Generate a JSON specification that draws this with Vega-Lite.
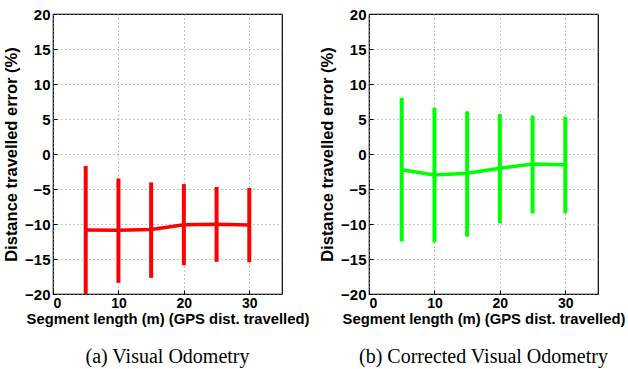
{
  "$schema": "https://vega.github.io/schema/vega-lite/v6.json",
  "background": "white",
  "padding": {"left": 2, "top": 6, "right": 0, "bottom": 0},
  "spacing": 87,
  "bounds": "flush",
  "datasets": {
    "vo": [
      {"x": 5, "mean": -10.86, "lo": -21, "hi": -1.7},
      {"x": 10, "mean": -10.9, "lo": -18.4, "hi": -3.5},
      {"x": 15, "mean": -10.8, "lo": -17.7, "hi": -4.05},
      {"x": 20, "mean": -10.1, "lo": -15.9, "hi": -4.3},
      {"x": 25, "mean": -10.05, "lo": -15.4, "hi": -4.7},
      {"x": 30, "mean": -10.14, "lo": -15.45, "hi": -4.85}
    ],
    "cvo": [
      {"x": 5, "mean": -2.25, "lo": -12.5, "hi": 8.05},
      {"x": 10, "mean": -3.0, "lo": -12.6, "hi": 6.6},
      {"x": 15, "mean": -2.76, "lo": -11.8, "hi": 6.1},
      {"x": 20, "mean": -2.05, "lo": -9.9, "hi": 5.7},
      {"x": 25, "mean": -1.43, "lo": -8.5, "hi": 5.5},
      {"x": 30, "mean": -1.55, "lo": -8.5, "hi": 5.33}
    ]
  },
  "config": {
    "view": {"stroke": "black", "strokeWidth": 1.2},
    "axis": {
      "labelFont": "Liberation Sans",
      "labelFontWeight": "bold",
      "labelColor": "black",
      "titleFont": "Liberation Sans",
      "titleFontWeight": "bold",
      "titleColor": "black",
      "domain": false,
      "tickColor": "black",
      "tickSize": -4,
      "tickWidth": 1,
      "gridColor": "#8c8c8c",
      "gridDash": [1, 3],
      "gridWidth": 1,
      "labelOverlap": false
    },
    "axisX": {"labelFontSize": 14, "titleFontSize": 14.8, "labelPadding": 6, "titlePadding": 1},
    "axisY": {"labelFontSize": 15, "titleFontSize": 16.5, "labelPadding": 7, "titlePadding": 5},
    "title": {
      "font": "Liberation Serif",
      "fontSize": 20,
      "fontWeight": "normal",
      "color": "black",
      "orient": "bottom",
      "offset": 21
    }
  },
  "hconcat": [
    {
      "width": 229,
      "height": 280,
      "title": "(a)  Visual Odometry",
      "data": {"name": "vo"},
      "encoding": {
        "x": {"field": "x", "type": "quantitative", "scale": {"domain": [0, 35]}, "axis": {"grid": true, "tickCount": 4, "values": [0, 10, 20, 30], "title": "Segment length (m) (GPS dist. travelled)"}},
        "y": {"field": "lo", "type": "quantitative", "scale": {"domain": [-20, 20]}, "axis": {"grid": true, "tickCount": 9, "values": [-20, -15, -10, -5, 0, 5, 10, 15, 20], "title": "Distance travelled error (%)"}}
      },
      "layer": [
        {
          "mark": {"type": "rule", "color": "#ff0000", "strokeWidth": 4, "clip": true},
          "encoding": {"y2": {"field": "hi"}}
        },
        {
          "mark": {"type": "line", "color": "#ff0000", "strokeWidth": 3.5, "clip": true},
          "encoding": {"y": {"field": "mean", "type": "quantitative"}}
        }
      ]
    },
    {
      "width": 229,
      "height": 280,
      "title": "(b)  Corrected Visual Odometry",
      "data": {"name": "cvo"},
      "encoding": {
        "x": {"field": "x", "type": "quantitative", "scale": {"domain": [0, 35]}, "axis": {"grid": true, "tickCount": 4, "values": [0, 10, 20, 30], "title": "Segment length (m) (GPS dist. travelled)"}},
        "y": {"field": "lo", "type": "quantitative", "scale": {"domain": [-20, 20]}, "axis": {"grid": true, "tickCount": 9, "values": [-20, -15, -10, -5, 0, 5, 10, 15, 20], "title": "Distance travelled error (%)"}}
      },
      "layer": [
        {
          "mark": {"type": "rule", "color": "#00ff00", "strokeWidth": 4, "clip": true},
          "encoding": {"y2": {"field": "hi"}}
        },
        {
          "mark": {"type": "line", "color": "#00ff00", "strokeWidth": 3.5, "clip": true},
          "encoding": {"y": {"field": "mean", "type": "quantitative"}}
        }
      ]
    }
  ]
}
